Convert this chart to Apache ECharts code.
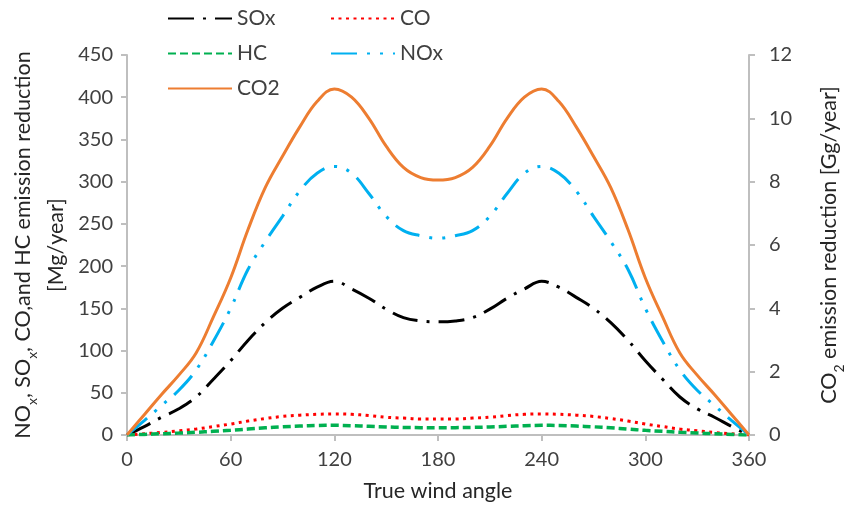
<!DOCTYPE html>
<html>
<head>
<meta charset="utf-8">
<script src="https://cdn.jsdelivr.net/npm/echarts@6/dist/echarts.min.js"></script>
<style>
  html, body { margin: 0; padding: 0; background: #fff; }
  #chart { width: 854px; height: 507px; }
</style>
</head>
<body>
<div id="chart"></div>
<script>
// true wind angle, degrees
const angles = [0, 10, 20, 30, 40, 50, 60, 70, 80, 90, 100, 110, 120, 130, 140, 150, 160, 170, 180,
  190, 200, 210, 220, 230, 240, 250, 260, 270, 280, 290, 300, 310, 320, 330, 340, 350, 360]

// Mg/year (left axis)
const sox = [0, 10, 21, 31, 45, 66, 88, 112, 133, 150, 163, 175, 182, 173, 162, 149, 139, 135, 134,
  135, 139, 149, 162, 173, 182, 175, 163, 150, 133, 112, 88, 66, 45, 31, 21, 10, 0]
const co = [0, 1.5, 3, 5, 7, 10, 13, 16.5, 19.5, 22, 23.5, 24.5, 25, 24.5, 23, 21, 20, 19, 19,
  19, 20, 21, 23, 24.5, 25, 24.5, 23.5, 22, 19.5, 16.5, 13, 10, 7, 5, 3, 1.5, 0]
const hc = [0, 0.7, 1.5, 2.3, 3.2, 4.3, 5.5, 7, 8.5, 9.7, 10.6, 11.2, 11.5, 11, 10.3, 9.5, 9, 8.7, 8.6,
  8.7, 9, 9.5, 10.3, 11, 11.5, 11.2, 10.6, 9.7, 8.5, 7, 5.5, 4.3, 3.2, 2.3, 1.5, 0.7, 0]
const nox = [0, 17, 35, 53, 77, 111, 150, 196, 229, 259, 289, 310, 318, 310, 286, 259, 242, 236, 233,
  236, 242, 259, 286, 310, 318, 310, 289, 259, 229, 196, 150, 111, 77, 53, 35, 17, 0]

// Gg/year (right axis)
const co2 = [0, 0.64, 1.28, 1.89, 2.59, 3.73, 4.96, 6.48, 7.81, 8.8, 9.73, 10.53, 10.93, 10.67, 10.0, 9.12, 8.45, 8.13, 8.05,
  8.13, 8.45, 9.12, 10.0, 10.67, 10.93, 10.53, 9.73, 8.8, 7.81, 6.48, 4.96, 3.73, 2.59, 1.89, 1.28, 0.64, 0]

const font = 'Lato'
const axisGrey = '#bfbfbf'
const labelColor = '#404040'
const titleColor = '#262626'

const pairs = arr => angles.map((a, i) => [a, arr[i]])

const chart = echarts.init(document.getElementById('chart'), null, { renderer: 'canvas' })

// legend shows only the line sample, no marker in the middle
const legendBase = {
  orient: 'vertical',
  top: 3,
  itemGap: 14,
  itemWidth: 64,
  itemHeight: 14,
  itemStyle: { opacity: 0 },
  textStyle: { fontFamily: font, fontSize: 21, color: labelColor }
}

const titleRich = {
  a: { fontFamily: font, fontSize: 21.5, color: titleColor, lineHeight: 33 },
  s: { fontFamily: font, fontSize: 14, color: titleColor, verticalAlign: 'bottom', lineHeight: 26 }
}

const axisCommon = {
  axisLine: { show: true, lineStyle: { color: axisGrey, width: 2 } },
  axisTick: { show: true, length: 6, lineStyle: { color: axisGrey, width: 2 } },
  splitLine: { show: false }
}

chart.setOption({
  backgroundColor: '#fff',
  animation: false,
  legend: [
    { ...legendBase, left: 162, data: ['SOx', 'HC', 'CO2'] },
    { ...legendBase, left: 325, data: ['CO', 'NOx'] }
  ],
  grid: { left: 127, right: 96, top: 55, bottom: 71 },
  xAxis: {
    ...axisCommon,
    type: 'value',
    min: 0,
    max: 360,
    interval: 60,
    name: 'True wind angle',
    nameLocation: 'middle',
    nameGap: 45,
    nameTextStyle: { fontFamily: font, fontSize: 21.5, color: titleColor },
    axisLabel: { fontFamily: font, fontSize: 20, color: labelColor, margin: 15 }
  },
  yAxis: [
    {
      ...axisCommon,
      type: 'value',
      min: 0,
      max: 450,
      interval: 50,
      name: '{a|NO}{s|x}{a|, SO}{s|x}{a|, CO,and HC emission reduction}\n{a|[Mg/year]}',
      nameLocation: 'middle',
      nameGap: 52,
      nameTextStyle: { rich: titleRich },
      axisLabel: { fontFamily: font, fontSize: 20, color: labelColor, margin: 14 }
    },
    {
      ...axisCommon,
      type: 'value',
      min: 0,
      max: 12,
      interval: 2,
      name: '{a|CO}{s|2}{a| emission reduction [Gg/year]}',
      nameLocation: 'middle',
      nameGap: 64,
      nameTextStyle: { rich: titleRich },
      axisLabel: { fontFamily: font, fontSize: 20, color: labelColor, margin: 20 }
    }
  ],
  series: [
    {
      name: 'SOx', type: 'line', smooth: 0.4, symbol: 'none', data: pairs(sox),
      lineStyle: { color: '#000000', width: 3, type: [26, 9, 3, 9] },
      itemStyle: { color: '#000000' }
    },
    {
      name: 'CO', type: 'line', smooth: 0.4, symbol: 'none', data: pairs(co),
      lineStyle: { color: '#ff0000', width: 3, type: [3, 4.5] },
      itemStyle: { color: '#ff0000' }
    },
    {
      name: 'HC', type: 'line', smooth: 0.4, symbol: 'none', data: pairs(hc),
      lineStyle: { color: '#00b050', width: 3.5, type: [8, 4] },
      itemStyle: { color: '#00b050' }
    },
    {
      name: 'NOx', type: 'line', smooth: 0.4, symbol: 'none', data: pairs(nox),
      lineStyle: { color: '#00b0f0', width: 3, type: [26, 10, 3, 10, 3, 10] },
      itemStyle: { color: '#00b0f0' }
    },
    {
      name: 'CO2', type: 'line', smooth: 0.4, symbol: 'none', yAxisIndex: 1, data: pairs(co2),
      lineStyle: { color: '#ed7d31', width: 3 },
      itemStyle: { color: '#ed7d31' }
    }
  ]
})
</script>
</body>
</html>
